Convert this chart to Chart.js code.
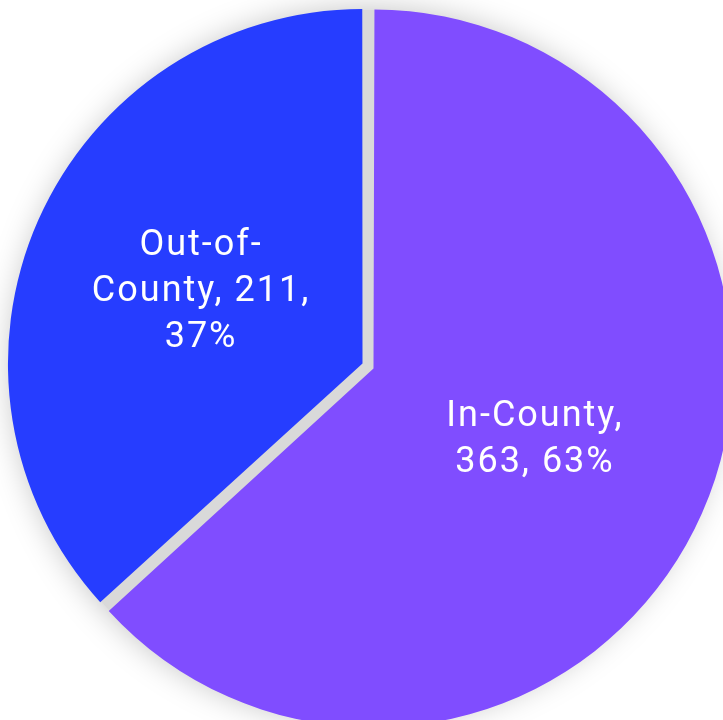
<!DOCTYPE html>
<html>
<head>
<meta charset="utf-8">
<script src="https://cdn.jsdelivr.net/npm/chart.js@4.4.1/dist/chart.umd.min.js"></script>
<style>
  html, body { margin: 0; padding: 0; background: #fff; overflow: hidden; }
  body { width: 723px; height: 720px; position: relative; }
  #wrap { position: absolute; left: -17px; top: -19px; width: 770px; height: 770px; }
</style>
</head>
<body>
<div id="wrap"><canvas id="pieChart"></canvas></div>
<script>
const categories = ['In-County', 'Out-of-County'];
const counts = [363, 211];
const sliceColors = ['#804DFF', '#263DFF'];
// label text as it wraps in the picture
const labelLines = [
    ['In-County,', '363, 63%'],
    ['Out-of-', 'County, 211,', '37%']
];

const sliceOffset = 24;

// soft grey disc behind the exploded slices
const shadowDisc = {
    id: 'shadowDisc',
    beforeDatasetsDraw(chart) {
        const arc = chart.getDatasetMeta(0).data[0];
        if (!arc) return;
        const ctx = chart.ctx;
        ctx.save();
        ctx.shadowColor = 'rgba(0, 0, 0, 0.25)';
        ctx.shadowBlur = 32;
        ctx.fillStyle = '#d9d9d9';
        ctx.beginPath();
        ctx.arc(arc.x, arc.y, arc.outerRadius + 3, 0, Math.PI * 2);
        ctx.fill();
        ctx.restore();
    }
};

const sliceLabels = {
    id: 'sliceLabels',
    afterDatasetsDraw(chart) {
        const ctx = chart.ctx;
        const arcs = chart.getDatasetMeta(0).data;
        ctx.save();
        ctx.fillStyle = '#ffffff';
        ctx.font = '36px Roboto';
        ctx.letterSpacing = '2px';
        ctx.textAlign = 'center';
        ctx.textBaseline = 'middle';
        arcs.forEach((arc, i) => {
            const mid = (arc.startAngle + arc.endAngle) / 2;
            const r = arc.outerRadius / 2 + sliceOffset / 4;
            const cx = arc.x + Math.cos(mid) * r;
            const cy = arc.y + Math.sin(mid) * r;
            const lines = labelLines[i];
            const lh = 46;
            lines.forEach((line, j) => {
                ctx.fillText(line, cx, cy + (j - (lines.length - 1) / 2) * lh);
            });
        });
        ctx.restore();
    }
};

new Chart(document.getElementById('pieChart'), {
    type: 'pie',
    data: {
        labels: categories,
        datasets: [{
            data: counts,
            backgroundColor: sliceColors,
            borderWidth: 0,
            offset: sliceOffset,
            hoverOffset: 0
        }]
    },
    options: {
        responsive: true,
        maintainAspectRatio: false,
        animation: false,
        layout: { padding: 20 },
        plugins: {
            legend: { display: false },
            tooltip: { enabled: false }
        }
    },
    plugins: [shadowDisc, sliceLabels]
});
</script>
</body>
</html>
